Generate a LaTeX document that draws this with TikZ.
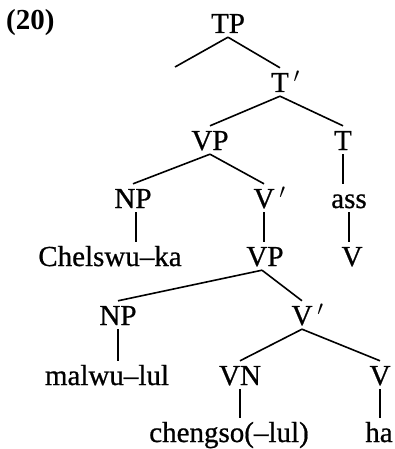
\documentclass[tikz,border=0pt]{standalone}
\usepackage{fontspec}
\setmainfont{Liberation Serif}
\newfontfamily\labfont{Liberation Serif}[FakeBold=0.7]
\begin{document}
\begin{tikzpicture}[x=1pt,y=-1pt,
  lab/.style={anchor=base,font=\labfont\fontsize{29}{30}\selectfont,text height=20pt,text depth=0pt,inner xsep=0pt,inner ysep=4pt},
  br/.style={line width=1.6pt}]
\useasboundingbox (0,0) rectangle (394,449);
\node[lab,font=\fontsize{29}{30}\selectfont\bfseries,anchor=base west] (ex) at (6,30) {(20)};
\node[lab] (TP) at (228,33) {TP};
\coordinate (L) at (175,67);
\node[lab] (Tb) at (280,92) {T\rlap{\,$'$}};
\node[lab] (VP) at (210,150) {VP};
\node[lab] (T) at (343,150) {T};
\node[lab] (NPa) at (133,208) {NP};
\node[lab] (Vba) at (264,208) {V\rlap{\,$'$}};
\node[lab] (ass) at (349,208) {ass};
\node[lab] (chel) at (110,266) {Chelswu–ka};
\node[lab] (VPb) at (265,266) {VP};
\node[lab] (Va) at (352,266) {V};
\node[lab] (NPb) at (118,325) {NP};
\node[lab] (Vbb) at (302,325) {V\rlap{\,$'$}};
\node[lab] (mal) at (107,385) {malwu–lul};
\node[lab] (VN) at (240,385) {VN};
\node[lab] (Vc) at (380,385) {V};
\node[lab] (cheng) at (229,442) {chengso(–lul)};
\node[lab] (ha) at (379,442) {ha};
\draw[br] (TP.south) -- (L);
\draw[br] (TP.south) -- (Tb.north);
\draw[br] (Tb.south) -- (VP.north);
\draw[br] (Tb.south) -- (T.north);
\draw[br] (VP.south) -- (NPa.north);
\draw[br] (VP.south) -- (Vba.north);
\draw[br] (T.south) -- (T.south |- ass.north);
\draw[br] ([xshift=3pt]NPa.south) -- ([xshift=3pt]NPa.south |- chel.north);
\draw[br] (Vba.south) -- (Vba.south |- VPb.north);
\draw[br] (ass.south) -- (ass.south |- Va.north);
\draw[br] ([xshift=-3pt]VPb.south) -- (NPb.north);
\draw[br] ([xshift=-3pt]VPb.south) -- (Vbb.north);
\draw[br] (NPb.south) -- (NPb.south |- mal.north);
\draw[br] (Vbb.south) -- (VN.north);
\draw[br] (Vbb.south) -- (Vc.north);
\draw[br] (VN.south) -- (VN.south |- cheng.north);
\draw[br] (Vc.south) -- (Vc.south |- ha.north);
\end{tikzpicture}
\end{document}
